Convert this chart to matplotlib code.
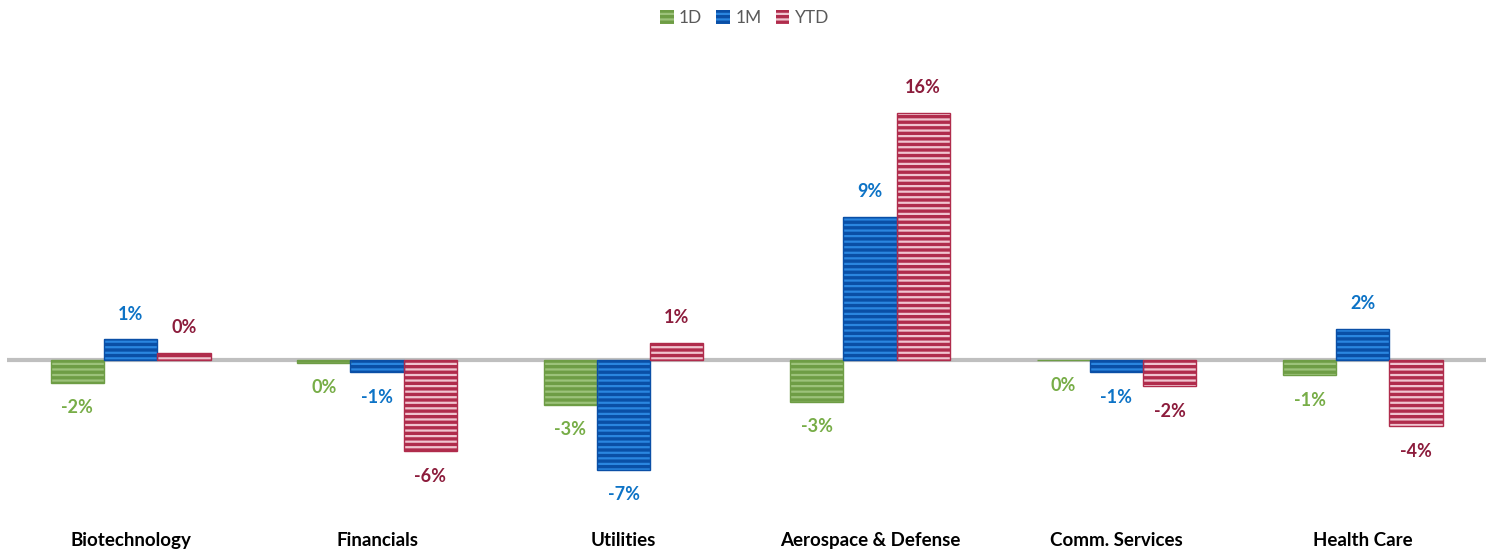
import numpy as np
import matplotlib
matplotlib.use("Agg")
import matplotlib.pyplot as plt

plt.rcParams['font.family'] = ['Lato', 'DejaVu Sans']
plt.rcParams['hatch.linewidth'] = 1.6

# data
categories = ["Biotechnology", "Financials", "Utilities", "Aerospace & Defense",
              "Comm. Services", "Health Care"]
series_names = ["1D", "1M", "YTD"]
vals_1d = [-1.5, -0.2, -2.9, -2.7, -0.05, -1.0]
vals_1m = [1.3, -0.8, -7.1, 9.2, -0.8, 2.0]
vals_ytd = [0.45, -5.9, 1.1, 15.9, -1.7, -4.3]

# face, stripe, label colour
styles = [
    ("#6e9d45", "#9cc27a", "#77ad47"),
    ("#0a4fa6", "#2a86e0", "#0d73c6"),
    ("#b02c4c", "#f0c4cf", "#8c1c3c"),
]

fig = plt.figure(figsize=(14.89, 5.53), dpi=100)
ax = fig.add_axes([0.005, 0.08, 0.993, 0.84])

x = np.arange(len(categories))
width = 0.216
offsets = [-width, 0, width]

for vals, off, (face, stripe, lab), name in zip([vals_1d, vals_1m, vals_ytd], offsets, styles, series_names):
    bars = ax.bar(x + off, vals, width, color=face, edgecolor=stripe, hatch="---",
                  linewidth=0, label=name, zorder=2)
    ax.bar(x + off, vals, width, fill=False, edgecolor=face, linewidth=1.0, zorder=3)
    for b, v in zip(bars, vals):
        y = b.get_height()
        dy = 18 if v >= 0 else -18
        ax.annotate(f"{int(round(v))}%", (b.get_x() + b.get_width() / 2, y),
                    xytext=(0, dy), textcoords="offset points", ha="center", va="center",
                    fontsize=13, fontweight="bold", color=lab)

ax.axhline(0, color="#bfbfbf", linewidth=3, zorder=1)

ax.set_xlim(-0.5, len(categories) - 0.5)
ax.set_ylim(-9.6, 20.3)
ax.set_xticks(x)
ax.set_xticklabels(categories, fontsize=13.5, fontweight="bold")
ax.tick_params(axis="x", length=0, pad=0)
for t in ax.get_xticklabels():
    t.set_y(-0.05)
ax.set_yticks([])
for s in ax.spines.values():
    s.set_visible(False)

leg = fig.legend(loc="upper center", ncol=3, frameon=False, fontsize=12.5,
                 bbox_to_anchor=(0.5, 1.01), handlelength=0.8, handleheight=0.8,
                 handletextpad=0.3, columnspacing=0.8)
for t in leg.get_texts():
    t.set_color("#595959")

fig.savefig("out.png", dpi=100)
